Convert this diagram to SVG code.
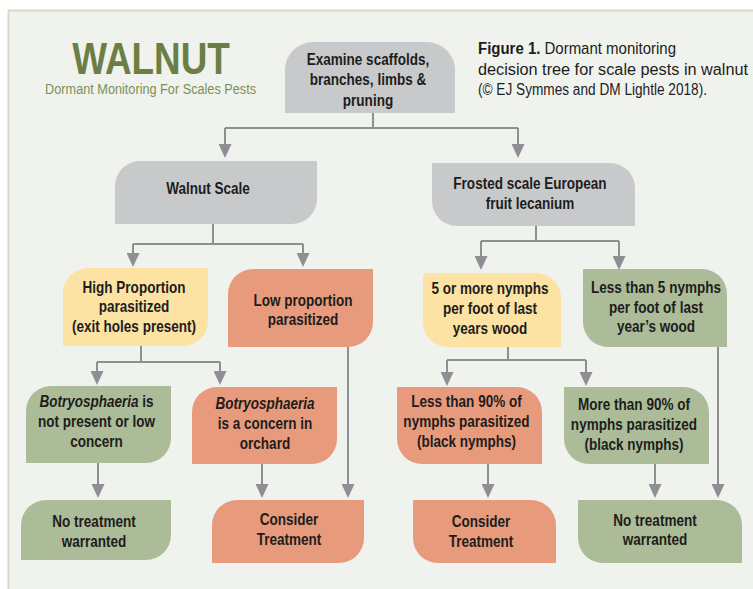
<svg xmlns="http://www.w3.org/2000/svg" width="753" height="589" viewBox="0 0 753 589">
<defs>
<style>
.n{font-family:"Liberation Sans",Arial,sans-serif;font-weight:bold;font-size:16.5px;fill:#1d1d1b;text-anchor:middle}
.i{font-style:italic}
.gray{fill:#c8c9cb}
.yel{fill:#fce2a3}
.sal{fill:#e89a7c}
.grn{fill:#acbb98}
.c{fill:none;stroke:#8e8f92;stroke-width:2}
.a{marker-end:url(#ah)}
.cap{font-family:"Liberation Sans",Arial,sans-serif;font-size:16px;fill:#1d1d1b}
</style>
<marker id="ah" viewBox="0 0 14 13" refX="6" refY="6.5" markerWidth="14" markerHeight="13" markerUnits="userSpaceOnUse" orient="auto">
<path d="M0,0 L14,6.5 L0,13 Z" fill="#8e8f92"/>
</marker>
</defs>
<rect x="0" y="0" width="753" height="589" fill="#ffffff"/>
<rect x="8.5" y="10.5" width="800" height="650" fill="#f0f2ee" stroke="#d4dcc8" stroke-width="2"/>

<g id="title" transform="matrix(0.82 0 0 1 27.18 0)">
<text x="151" y="74" text-anchor="middle" style="font-family:'Liberation Sans',Arial,sans-serif;font-weight:bold;font-size:45px;fill:#6b7f45">WALNUT</text>
<text x="150.5" y="94" text-anchor="middle" style="font-family:'Liberation Sans',Arial,sans-serif;font-size:15.5px;fill:#7a9155">Dormant Monitoring For Scales Pests</text>
</g>

<g id="caption" class="cap">
<text x="478" y="54" textLength="198" lengthAdjust="spacingAndGlyphs"><tspan font-weight="bold">Figure 1.</tspan> Dormant monitoring</text>
<text x="478" y="75" textLength="270" lengthAdjust="spacingAndGlyphs">decision tree for scale pests in walnut</text>
<text x="478" y="95" textLength="229" lengthAdjust="spacingAndGlyphs">(© EJ Symmes and DM Lightle 2018).</text>
</g>

<g id="connectors">
<path class="c" d="M373,113 V128 M225,128 H518 M213,224 V244 M133,244 H303 M141,346 V362 M97,362 H220 M536,226 V241 M481,241 H619 M508,347 V360 M447,360 H586"/>
<path class="c a" d="M225,128 V150"/>
<path class="c a" d="M518,128 V150"/>
<path class="c a" d="M133,244 V259"/>
<path class="c a" d="M303,244 V259"/>
<path class="c a" d="M97,362 V377"/>
<path class="c a" d="M220,362 V377"/>
<path class="c a" d="M348,347 V490"/>
<path class="c a" d="M98,463 V490"/>
<path class="c a" d="M262,464 V490"/>
<path class="c a" d="M481,241 V262"/>
<path class="c a" d="M619,241 V262"/>
<path class="c a" d="M447,360 V378"/>
<path class="c a" d="M586,360 V378"/>
<path class="c a" d="M718,347 V490"/>
<path class="c a" d="M488,464 V490"/>
<path class="c a" d="M655,464 V490"/>
</g>

<g id="examine">
<path class="gray" d="M285,113 V70 A28,28 0 0 1 313,42 H427 A28,28 0 0 1 455,70 V113 Z"/>
<g transform="matrix(0.82 0 0 1 66.24 0)">
<text class="n" x="368" y="65">Examine scaffolds,</text>
<text class="n" x="368" y="85.5">branches, limbs &amp;</text>
<text class="n" x="368" y="106">pruning</text>
</g>
</g>

<g id="walnut-scale">
<path class="gray" d="M140,161 H317 V199 A25,25 0 0 1 292,224 H115 V186 A25,25 0 0 1 140,161 Z"/>
<g transform="matrix(0.82 0 0 1 37.44 0)">
<text class="n" x="208" y="194">Walnut Scale</text>
</g>
</g>

<g id="frosted-scale">
<path class="gray" d="M432,163 H610 A25,25 0 0 1 635,188 V226 H457 A25,25 0 0 1 432,201 Z"/>
<g transform="matrix(0.82 0 0 1 95.4 0)">
<text class="n" x="530" y="189">Frosted scale European</text>
<text class="n" x="530" y="209">fruit lecanium</text>
</g>
</g>

<g id="high-proportion">
<path class="yel" d="M88,268 H208 V321 A25,25 0 0 1 183,346 H63 V293 A25,25 0 0 1 88,268 Z"/>
<g transform="matrix(0.82 0 0 1 24.12 0)">
<text class="n" x="134" y="293">High Proportion</text>
<text class="n" x="134" y="312.5">parasitized</text>
<text class="n" x="134" y="332">(exit holes present)</text>
</g>
</g>

<g id="low-proportion">
<path class="sal" d="M253,269 H373 V322 A25,25 0 0 1 348,347 H228 V294 A25,25 0 0 1 253,269 Z"/>
<g transform="matrix(0.82 0 0 1 54.54 0)">
<text class="n" x="303" y="306">Low proportion</text>
<text class="n" x="303" y="325">parasitized</text>
</g>
</g>

<g id="five-or-more">
<path class="yel" d="M427,273 H536 A25,25 0 0 1 561,298 V347 H448 A25,25 0 0 1 423,322 V277 A4,4 0 0 1 427,273 Z"/>
<g transform="matrix(0.82 0 0 1 88.2 0)">
<text class="n" x="490" y="294">5 or more nymphs</text>
<text class="n" x="490" y="314">per foot of last</text>
<text class="n" x="490" y="334">years wood</text>
</g>
</g>

<g id="less-than-five">
<path class="grn" d="M583,269 H702 A25,25 0 0 1 727,294 V347 H608 A25,25 0 0 1 583,322 Z"/>
<g transform="matrix(0.82 0 0 1 118.08 0)">
<text class="n" x="656" y="293">Less than 5 nymphs</text>
<text class="n" x="656" y="313">per foot of last</text>
<text class="n" x="656" y="332">year’s wood</text>
</g>
</g>

<g id="botryo-low">
<path class="grn" d="M51,386 H171 V438 A25,25 0 0 1 146,463 H26 V411 A25,25 0 0 1 51,386 Z"/>
<g transform="matrix(0.82 0 0 1 17.37 0)">
<text class="n" x="96.5" y="407"><tspan class="i">Botryosphaeria</tspan> is</text>
<text class="n" x="96.5" y="427">not present or low</text>
<text class="n" x="96.5" y="447">concern</text>
</g>
</g>

<g id="botryo-concern">
<path class="sal" d="M217,387 H337 V439 A25,25 0 0 1 312,464 H192 V412 A25,25 0 0 1 217,387 Z"/>
<g transform="matrix(0.82 0 0 1 47.7 0)">
<text class="n" x="265" y="409"><tspan class="i">Botryosphaeria</tspan></text>
<text class="n" x="265" y="429">is a concern in</text>
<text class="n" x="265" y="449">orchard</text>
</g>
</g>

<g id="less-than-90">
<path class="sal" d="M397,387 H517 A25,25 0 0 1 542,412 V464 H422 A25,25 0 0 1 397,439 Z"/>
<g transform="matrix(0.82 0 0 1 83.97 0)">
<text class="n" x="466.5" y="407">Less than 90% of</text>
<text class="n" x="466.5" y="427">nymphs parasitized</text>
<text class="n" x="466.5" y="447">(black nymphs)</text>
</g>
</g>

<g id="more-than-90">
<path class="grn" d="M564,387 H684 A25,25 0 0 1 709,412 V464 H589 A25,25 0 0 1 564,439 Z"/>
<g transform="matrix(0.82 0 0 1 114.12 0)">
<text class="n" x="634" y="410">More than 90% of</text>
<text class="n" x="634" y="430">nymphs parasitized</text>
<text class="n" x="634" y="450">(black nymphs)</text>
</g>
</g>

<g id="no-treatment-left">
<path class="grn" d="M46,500 H171 V535 A25,25 0 0 1 146,560 H21 V525 A25,25 0 0 1 46,500 Z"/>
<g transform="matrix(0.82 0 0 1 16.92 0)">
<text class="n" x="94" y="527">No treatment</text>
<text class="n" x="94" y="547">warranted</text>
</g>
</g>

<g id="consider-left">
<path class="sal" d="M237,500 H364 V538 A25,25 0 0 1 339,563 H212 V525 A25,25 0 0 1 237,500 Z"/>
<g transform="matrix(0.82 0 0 1 52.02 0)">
<text class="n" x="289" y="525">Consider</text>
<text class="n" x="289" y="545">Treatment</text>
</g>
</g>

<g id="consider-right">
<path class="sal" d="M413,500 H531 A25,25 0 0 1 556,525 V563 H438 A25,25 0 0 1 413,538 Z"/>
<g transform="matrix(0.82 0 0 1 86.58 0)">
<text class="n" x="481" y="527">Consider</text>
<text class="n" x="481" y="547">Treatment</text>
</g>
</g>

<g id="no-treatment-right">
<path class="grn" d="M578,500 H717 A25,25 0 0 1 742,525 V563 H603 A25,25 0 0 1 578,538 Z"/>
<g transform="matrix(0.82 0 0 1 117.9 0)">
<text class="n" x="655" y="526">No treatment</text>
<text class="n" x="655" y="545">warranted</text>
</g>
</g>
</svg>
